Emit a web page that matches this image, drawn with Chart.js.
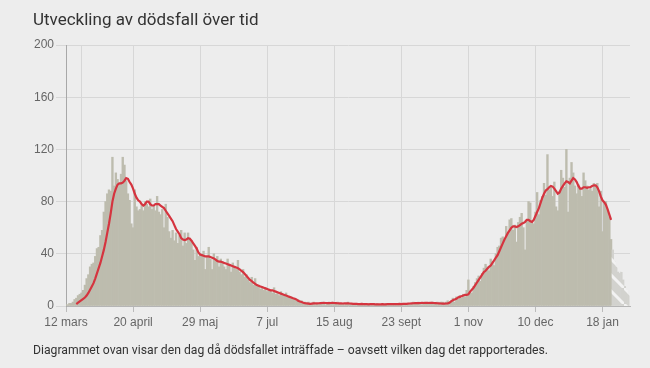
<!DOCTYPE html>
<html>
<head>
<meta charset="utf-8">
<script src="https://cdn.jsdelivr.net/npm/chart.js@4.4.1/dist/chart.umd.min.js"></script>
<style>
  html, body { margin: 0; padding: 0; background: #ededed; width: 650px; height: 368px; overflow: hidden; }
  #title { position: absolute; left: 33px; top: 9px; font: 17px Roboto, sans-serif; color: #333; white-space: nowrap; }
  #note { position: absolute; left: 33px; top: 343px; font: 12.2px Roboto, sans-serif; color: #333; white-space: nowrap; }
  canvas { position: absolute; left: 0; top: 0; }
</style>
</head>
<body>
<canvas id="c" width="650" height="368"></canvas>
<div id="title">Utveckling av dödsfall över tid</div>
<div id="note">Diagrammet ovan visar den dag då dödsfallet inträffade – oavsett vilken dag det rapporterades.</div>
<script>
// ---- DATA ----
const startDate = '2020-03-12';
const dayCount = 329;

// daily deaths by day of death (confirmed), from 12 mars 2020
const deaths = [
  1, 1, 2, 2, 3, 5, 6,
  8, 9, 10, 12, 16, 21, 24,
  30, 32, 33, 38, 44, 45, 54,
  58, 72, 80, 86, 89, 88, 114,
  92, 102, 97, 94, 101, 114, 108,
  96, 86, 81, 63, 60, 89, 76,
  73, 74, 77, 73, 80, 78, 76,
  82, 74, 77, 73, 84, 72, 70,
  74, 60, 78, 68, 57, 52, 58,
  50, 56, 48, 54, 58, 46, 56,
  48, 56, 52, 50, 43, 35, 45,
  38, 40, 38, 42, 28, 38, 45,
  36, 28, 40, 35, 38, 30, 36,
  34, 30, 28, 36, 32, 26, 33,
  30, 28, 35, 26, 24, 28, 22,
  24, 20, 18, 22, 16, 21, 15,
  16, 13, 15, 12, 14, 11, 13,
  12, 10, 14, 9, 10, 8, 11,
  9, 8, 10, 7, 6, 7, 5,
  6, 4, 5, 3, 4, 3, 3,
  2, 3, 2, 2, 3, 1, 2,
  2, 2, 3, 2, 1, 2, 3,
  2, 3, 2, 2, 3, 2, 2,
  2, 1, 2, 3, 2, 2, 1,
  2, 2, 1, 2, 1, 2, 2,
  1, 2, 1, 1, 2, 1, 2,
  1, 1, 2, 1, 2, 1, 1,
  2, 1, 1, 2, 1, 2, 1,
  1, 2, 2, 1, 2, 2, 3,
  2, 2, 3, 2, 1, 3, 2,
  2, 3, 2, 3, 2, 2, 3,
  2, 3, 3, 2, 3, 4, 3,
  4, 6, 3, 7, 5, 8, 6,
  9, 7, 12, 20, 11, 10, 15,
  18, 21, 23, 19, 25, 29, 32,
  30, 27, 36, 34, 31, 40, 45,
  46, 52, 53, 50, 61, 56, 66,
  67, 58, 62, 49, 64, 68, 71,
  60, 43, 66, 80, 79, 64, 63,
  72, 87, 70, 81, 84, 94, 85,
  116, 89, 92, 84, 95, 76, 73,
  88, 104, 98, 91, 120, 72, 98,
  110, 102, 92, 86, 93, 90, 84,
  102, 96, 92, 89, 90, 88, 94,
  92, 94, 76, 88, 57, 79, 80,
  73, 68, 51
];

// latest days, not yet complete
const preliminary = [43, 34, 30, 26, 25, 26, 20, 15, 12, 9];

// 7-day average (red line)
const average = [
  null, null, null, null, null, null,
  1.5, 2.5, 3.5, 4.5, 5.5, 6.5, 8,
  10, 12.5, 15, 17.5, 21, 25, 29,
  33, 38, 43, 49, 56, 63, 71,
  80, 86, 90, 93, 94, 94, 94.5,
  96, 98, 97.5, 95, 93, 90, 86,
  83, 81, 80, 78, 77, 78, 80,
  80, 78, 77, 77, 78, 78, 78,
  77, 76, 75, 73, 71, 69, 67,
  65, 62, 59, 57, 55, 52, 51,
  50.5, 51, 52, 51.5, 50, 48, 46,
  44, 41, 39.5, 39, 38.5, 38, 38,
  38, 37.5, 37, 36.5, 35.5, 34.5, 34,
  34, 33.5, 33, 32.5, 32, 31.5, 31,
  30.5, 30, 29.5, 29, 28, 27, 26,
  24.5, 23, 21.5, 20, 19, 18, 17,
  16, 15.5, 15, 14.5, 14, 13.5, 13,
  12.5, 12, 12, 11.5, 11, 10.5, 10,
  9.5, 9, 8.5, 8, 7.5, 7, 6.5,
  6, 5.5, 5, 4, 3.5, 3, 2.5,
  2.2, 2, 1.8, 1.6, 1.8, 2, 2,
  2, 2.1, 2.2, 2.3, 2.4, 2.3, 2.2,
  2.2, 2.3, 2.4, 2.3, 2.2, 2.1, 2,
  2, 1.9, 2, 2.1, 2, 1.9, 1.8,
  1.7, 1.6, 1.6, 1.5, 1.5, 1.6, 1.5,
  1.4, 1.4, 1.3, 1.4, 1.5, 1.4, 1.3,
  1.3, 1.2, 1.3, 1.4, 1.3, 1.3, 1.4,
  1.4, 1.5, 1.4, 1.4, 1.5, 1.5, 1.6,
  1.5, 1.6, 1.6, 1.7, 1.8, 1.9, 2,
  2.1, 2.2, 2.3, 2.2, 2.3, 2.4, 2.3,
  2.4, 2.4, 2.3, 2.4, 2.5, 2.3, 2.2,
  2.1, 2, 1.9, 1.8, 1.8, 1.9, 2,
  2.5, 3.5, 4.5, 5, 5.5, 6.5, 7,
  7.5, 8, 8.5, 8.5, 9, 11, 12.5,
  14, 16, 18, 20, 22, 24, 26,
  27, 28.5, 30, 31, 33, 35, 37,
  39, 42, 45, 48, 51, 53.5, 56,
  58, 60, 61, 61, 60.5, 61, 62,
  63, 63.5, 64.5, 66, 66, 65, 64.5,
  66, 69, 72, 75, 79, 83, 86,
  88.5, 89.5, 91, 92, 91.5, 90, 88,
  86, 87, 90, 92, 94, 95.5, 95,
  94, 96, 98, 97, 95, 92, 90,
  90, 91, 91, 90.5, 91, 91, 92,
  92.5, 92.5, 91, 88, 84, 81, 79.5,
  77.5, 74, 70, 66
];

// x-axis tick labels and the day index they sit on
const tickDays = [0, 39, 78, 117, 156, 195, 234, 273, 312];
const tickLabels = ['12 mars', '20 april', '29 maj', '7 jul', '15 aug', '23 sept', '1 nov', '10 dec', '18 jan'];
const extraGridDays = [9];

// y-axis ticks
const yMin = 0, yMax = 200, yStep = 40;

// ---- BUILD ----
const labels = [];
{
  const d0 = new Date(startDate + 'T12:00:00Z');
  for (let i = 0; i < dayCount; i++) {
    const d = new Date(d0.getTime() + i * 86400000);
    labels.push(d.toISOString().slice(0, 10));
  }
}
const barValues = deaths.concat(preliminary);

function makePattern() {
  const p = document.createElement('canvas');
  p.width = 16; p.height = 16;
  const g = p.getContext('2d');
  g.fillStyle = '#d2d2ce';
  g.fillRect(0, 0, 16, 16);
  g.strokeStyle = '#f2f2f2';
  g.lineWidth = 3;
  g.beginPath();
  g.moveTo(-4, -4); g.lineTo(20, 20);
  g.stroke();
  return g.createPattern(p, 'repeat');
}

const ctx = document.getElementById('c').getContext('2d');
const prelimPattern = makePattern();
const barColor = '#bdbcae';
const gridColor = '#d7d7d7';

const isGridDay = (i) => tickDays.includes(i) || extraGridDays.includes(i);

new Chart(ctx, {
  type: 'bar',
  data: {
    labels: labels,
    datasets: [
      {
        type: 'line',
        data: average,
        borderColor: '#d5343f',
        borderWidth: 2.2,
        pointRadius: 0,
        tension: 0,
        fill: false,
        order: 0
      },
      {
        type: 'bar',
        data: barValues,
        backgroundColor: (c) => c.dataIndex >= deaths.length ? prelimPattern : barColor,
        borderWidth: 0,
        categoryPercentage: 1,
        barPercentage: 1,
        order: 1
      }
    ]
  },
  options: {
    responsive: false,
    animation: false,
    events: [],
    layout: { padding: { left: 0, right: 20, top: 45, bottom: 36 } },
    plugins: { legend: { display: false }, tooltip: { enabled: false }, title: { display: false } },
    scales: {
      x: {
        type: 'category',
        offset: false,
        grid: {
          offset: false,
          color: (c) => isGridDay(c.index) ? gridColor : 'rgba(0,0,0,0)',
          tickColor: (c) => tickDays.includes(c.index) ? '#bbbbbb' : 'rgba(0,0,0,0)',
          tickLength: 6,
          drawTicks: true
        },
        border: { display: true, color: '#b5b5b5' },
        ticks: {
          autoSkip: false,
          maxRotation: 0,
          minRotation: 0,
          padding: 3,
          color: '#666',
          font: { family: 'Liberation Sans, Arial, sans-serif', size: 12 },
          callback: function (value, index) {
            const k = tickDays.indexOf(index);
            return k >= 0 ? tickLabels[k] : '';
          }
        },
        afterFit: (s) => { s.height = 26; }
      },
      y: {
        min: yMin,
        max: yMax,
        grid: { color: gridColor, tickColor: gridColor, tickLength: 10, drawTicks: true },
        border: { display: true, color: '#a8a8a8' },
        ticks: {
          stepSize: yStep,
          padding: 2,
          color: '#666',
          font: { family: 'Liberation Sans, Arial, sans-serif', size: 12 }
        },
        afterFit: (s) => { s.width = 66; }
      }
    }
  }
});
</script>
</body>
</html>
